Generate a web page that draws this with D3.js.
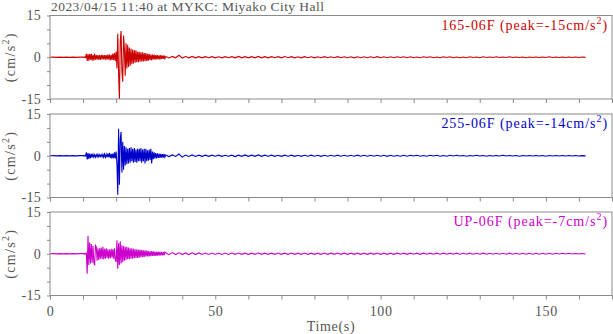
<!DOCTYPE html>
<html><head><meta charset="utf-8">
<script src="https://cdn.jsdelivr.net/npm/d3@7"></script>
<style>
html,body{margin:0;padding:0;background:#fff;}
svg{display:block;font-family:"Liberation Serif","DejaVu Serif",serif;}
</style></head>
<body><svg id="c" width="613" height="334"></svg>
<script>
const title = "2023/04/15 11:40 at MYKC: Miyako City Hall";
const components = ["165-06F", "255-06F", "UP-06F"];
const peaks = [-15, -14, -7];
const colors = ["#cc0000", "#0000cc", "#cc00cc"];
const xTickLabels = [0, 50, 100, 150];
const yTickLabels = [15, 0, -15];

// sample grids (seconds): pre-event 0..9 @1s, main part 10..34.75 @0.25s, coda 35..162 @1s
const preStart = 0, preStep = 1;
const mainStart = 10, mainStep = 0.25;
const codaStart = 35, codaStep = 1;

const pre = [0,0.05,-0.05,0.05,-0.05,0.05,-0.05,0.05,-0.05,0.05];

const mainEW = [
 0.1,-0.1,0.1,-0.1,
 1.2,-1.3,1.1,-1.2,
 1.1,-0.9,1.2,-1.2,
 0.9,-1.1,1.2,-0.9,
 0.8,-0.9,0.8,-0.9,
 0.8,-1.0,0.9,-0.8,
 0.9,-0.8,0.8,-0.9,
 0.8,-0.9,1.0,-0.8,
 1.0,-1.1,0.9,-1.0,
 1.3,-1.0,1.5,-1.4,
 2.0,-4.0,8.4,-6.0,
 -15,6.0,9.4,-5.0,
 -8.8,7.8,3.0,-6.6,
 5.0,-4.0,4.5,-3.5,
 3.5,-3.0,3.0,-2.5,
 2.8,-2.2,2.5,-2.0,
 2.5,-1.8,2.0,-1.8,
 2.0,-1.6,1.8,-1.5,
 1.8,-1.5,1.5,-1.4,
 1.5,-1.3,1.2,-1.2,
 1.2,-1.0,1.0,-1.1,
 1.0,-0.8,1.0,-0.9,
 0.8,-0.8,0.8,-0.7,
 0.7,-0.9,0.8,-0.6,
 0.6,-0.6,0.7,-0.5
];
const mainNS = [
 0.05,-0.05,0.05,-0.05,
 1.2,-1.3,1.0,-1.1,
 0.8,-0.9,0.7,-0.6,
 0.5,-0.5,0.4,-0.5,
 0.4,-0.4,0.5,-0.4,
 0.4,-0.3,0.4,-0.4,
 0.5,-0.5,0.6,-0.5,
 0.5,-0.6,0.8,-0.5,
 1.0,-0.8,0.7,-1.0,
 0.8,-0.9,1.2,-1.0,
 1.5,-3.0,-14,9.7,
 -10.4,6.0,8.5,-6.0,
 5.0,-5.0,3.5,-3.5,
 3.0,-3.0,2.5,-2.8,
 2.8,-2.5,3.0,-2.0,
 2.5,-2.5,2.8,-2.2,
 2.2,-2.5,2.5,-2.0,
 2.5,-2.0,2.8,-2.5,
 2.2,-2.0,2.5,-2.8,
 2.5,-2.0,2.0,-1.8,
 2.2,-1.5,2.5,-2.8,
 1.5,-1.2,1.2,-1.0,
 1.0,-1.0,0.9,-0.8,
 0.8,-0.8,0.7,-0.7,
 0.6,-0.7,0.7,-0.5
];
const mainUD = [
 0.05,-0.05,0.05,-0.05,
 0.2,-7.2,6.4,-4.0,
 4.0,-3.5,3.5,-3.2,
 2.8,-3.0,-4.2,3.0,
 2.5,-2.5,2.0,-2.2,
 2.0,-1.8,2.2,-2.0,
 2.5,-2.0,1.8,-1.8,
 2.0,-1.5,1.6,-1.8,
 1.5,-1.6,1.8,-1.4,
 1.6,-1.8,2.0,-2.2,
 -3.0,4.8,-5.4,3.8,
 -4.0,4.5,-3.5,3.0,
 -3.0,2.8,-2.5,2.5,
 -2.2,2.5,-2.0,2.2,
 -2.0,2.0,-1.8,2.0,
 -1.8,1.8,-1.6,1.6,
 -1.5,1.6,-1.5,1.4,
 -1.4,1.5,-1.2,1.3,
 -1.2,1.2,-1.1,1.2,
 -1.0,1.1,-1.0,1.0,
 -1.0,0.9,-0.9,1.0,
 -0.8,0.9,-0.8,0.8,
 -0.8,0.7,-0.7,0.8,
 -0.7,0.7,-0.6,0.7,
 -0.6,0.6,-0.6,0.6
];

const codaEW = [
 0.3,-0.25,0.3,-0.2,0.7,-0.3,0.25,-0.2,0.3,-0.2,
 0.2,-0.2,0.2,-0.15,0.2,-0.2,0.15,-0.2,0.2,-0.15,
 0.2,-0.2,0.3,-0.2,0.2,-0.2,0.2,-0.2,0.3,-0.2,
 0.2,-0.2,0.2,-0.15,0.2,-0.2,0.25,-0.15,0.2,-0.2,
 0.15,-0.2,0.2,-0.15,0.15,-0.2,0.15,-0.15,0.2,-0.15,
 0.15,-0.15,0.2,-0.15,0.15,-0.15,0.15,-0.2,0.15,-0.15,
 0.15,-0.15,0.15,-0.15,0.2,-0.15,0.15,-0.15,0.15,-0.15,
 0.15,-0.1,0.15,-0.15,0.15,-0.15,0.1,-0.15,0.15,-0.1,
 0.15,-0.15,0.1,-0.15,0.15,-0.1,0.15,-0.15,0.1,-0.15,
 0.1,-0.15,0.15,-0.1,0.1,-0.15,0.15,-0.1,0.1,-0.1,
 0.15,-0.1,0.1,-0.1,0.15,-0.1,0.1,-0.1,0.1,-0.15,
 0.1,-0.1,0.1,-0.1,0.1,-0.1,0.15,-0.1,0.1,-0.1,
 0.1,-0.1,0.1,-0.1,0.1,-0.1,0.1,-0.05
];
const codaNS = [
 0.3,-0.3,0.3,-0.25,0.6,-0.5,0.25,-0.25,0.3,-0.25,
 0.2,-0.2,0.2,-0.2,0.2,-0.15,0.2,-0.2,0.15,-0.15,
 0.2,-0.3,0.2,-0.2,0.3,-0.2,0.2,-0.2,0.3,-0.2,
 0.2,-0.15,0.2,-0.2,0.15,-0.2,0.2,-0.15,0.2,-0.2,
 0.15,-0.2,0.15,-0.15,0.2,-0.15,0.15,-0.2,0.15,-0.15,
 0.15,-0.15,0.2,-0.15,0.15,-0.15,0.15,-0.15,0.2,-0.15,
 0.15,-0.15,0.15,-0.15,0.15,-0.15,0.15,-0.2,0.15,-0.15,
 0.1,-0.15,0.15,-0.15,0.15,-0.1,0.15,-0.15,0.1,-0.15,
 0.15,-0.1,0.15,-0.15,0.1,-0.15,0.15,-0.1,0.15,-0.1,
 0.1,-0.15,0.1,-0.1,0.15,-0.1,0.1,-0.15,0.1,-0.1,
 0.1,-0.1,0.15,-0.1,0.1,-0.1,0.1,-0.15,0.1,-0.1,
 0.1,-0.1,0.1,-0.1,0.1,-0.15,0.1,-0.1,0.1,-0.1,
 0.1,-0.1,0.1,-0.1,0.1,-0.1,0.05,-0.05
];
const codaUD = [
 0.35,-0.35,0.4,-0.3,0.35,-0.3,0.3,-0.3,0.35,-0.3,
 0.3,-0.25,0.25,-0.25,0.25,-0.25,0.25,-0.25,0.25,-0.25,
 0.25,-0.2,0.25,-0.2,0.2,-0.2,0.2,-0.2,0.25,-0.2,
 0.2,-0.2,0.2,-0.2,0.25,-0.2,0.2,-0.2,0.25,-0.2,
 0.2,-0.2,0.25,-0.2,0.2,-0.2,0.2,-0.2,0.25,-0.2,
 0.2,-0.2,0.25,-0.2,0.2,-0.2,0.2,-0.2,0.2,-0.2,
 0.2,-0.2,0.2,-0.2,0.25,-0.2,0.2,-0.2,0.2,-0.2,
 0.2,-0.15,0.2,-0.2,0.2,-0.15,0.2,-0.2,0.2,-0.15,
 0.2,-0.15,0.2,-0.15,0.2,-0.15,0.2,-0.15,0.2,-0.15,
 0.15,-0.15,0.2,-0.15,0.15,-0.15,0.2,-0.15,0.15,-0.15,
 0.15,-0.15,0.15,-0.15,0.2,-0.15,0.15,-0.15,0.15,-0.15,
 0.15,-0.15,0.15,-0.15,0.15,-0.15,0.15,-0.15,0.15,-0.1,
 0.15,-0.1,0.15,-0.1,0.1,-0.1,0.1,-0.1
];

const mains = [mainEW, mainNS, mainUD];
const codas = [codaEW, codaNS, codaUD];

function toPoints(main, coda) {
  const pts = [];
  pre.forEach((v, i) => pts.push([preStart + i * preStep, v]));
  main.forEach((v, i) => pts.push([mainStart + i * mainStep, v]));
  coda.forEach((v, i) => pts.push([codaStart + i * codaStep, v]));
  return pts;
}

const svg = d3.select("#c");
const left = 50, right = 612;
const panelTops = [15.5, 114, 212];
const panelH = 83.5;
const axisColor = "#8a8a8a";
const textColor = "#555";

const x = d3.scaleLinear().domain([0, 170]).range([left, right]);

svg.append("text").attr("x", 51).attr("y", 10.5)
  .attr("font-size", 13.5).attr("letter-spacing", 0.45).attr("fill", textColor).text(title);

components.forEach((name, k) => {
  const top = panelTops[k];
  const y = d3.scaleLinear().domain([-15, 15]).range([top + panelH, top]);
  const g = svg.append("g");

  g.append("clipPath").attr("id", "clip" + k).append("rect")
    .attr("x", left).attr("y", top).attr("width", right - left).attr("height", panelH);

  const line = d3.line().x(d => x(d[0])).y(d => y(d[1]));
  g.append("path").datum(toPoints(mains[k], codas[k]))
    .attr("clip-path", "url(#clip" + k + ")")
    .attr("fill", "none").attr("stroke", colors[k]).attr("stroke-width", 1.1)
    .attr("d", line);

  // frame
  g.append("rect").attr("x", left).attr("y", top).attr("width", right - left).attr("height", panelH)
    .attr("fill", "none").attr("stroke", axisColor).attr("stroke-width", 1);

  // x axis
  const xa = d3.axisBottom(x).tickValues(d3.range(0, 171, 10)).tickSize(4).tickFormat(
    k === 2 ? (d => xTickLabels.includes(d) ? d : "") : () => "");
  const xg = g.append("g").attr("transform", `translate(0,${top + panelH})`).call(xa);
  xg.select(".domain").remove();
  xg.selectAll("line").attr("stroke", axisColor);
  xg.selectAll("text").attr("fill", textColor).attr("font-size", 14).attr("letter-spacing", 0.6)
    .attr("font-family", "Liberation Serif").attr("dy", "0.95em");

  // y axis
  const ya = d3.axisLeft(y).tickValues(d3.range(-15, 16, 5)).tickSize(3)
    .tickFormat(d => yTickLabels.includes(d) ? d : "");
  const yg = g.append("g").attr("transform", `translate(${left},0)`).call(ya);
  yg.select(".domain").remove();
  yg.selectAll("line").attr("stroke", axisColor);
  yg.selectAll("text").attr("fill", textColor).attr("font-size", 14).attr("letter-spacing", 0.3)
    .attr("font-family", "Liberation Serif").attr("x", -9);

  // y label
  const yl = g.append("text").attr("transform", `translate(15,${top + panelH / 2}) rotate(-90)`)
    .attr("text-anchor", "middle").attr("font-size", 14).attr("letter-spacing", 1.3).attr("fill", textColor);
  yl.append("tspan").text("(cm/s");
  yl.append("tspan").attr("font-size", 10).attr("dy", -6).text("2");
  yl.append("tspan").attr("dy", 6).text(")");

  // label
  const lt = g.append("text").attr("x", 608).attr("y", top + 14)
    .attr("text-anchor", "end").attr("font-size", 14).attr("letter-spacing", 0.95).attr("fill", colors[k]);
  lt.append("tspan").text(`${name} (peak=${peaks[k]}cm/s`);
  lt.append("tspan").attr("font-size", 10).attr("dy", -6).text("2");
  lt.append("tspan").attr("dy", 6).text(")");
});

svg.append("text").attr("x", (left + right) / 2).attr("y", 331)
  .attr("text-anchor", "middle").attr("font-size", 14).attr("letter-spacing", 0.7)
  .attr("fill", textColor).text("Time(s)");
</script></body></html>
